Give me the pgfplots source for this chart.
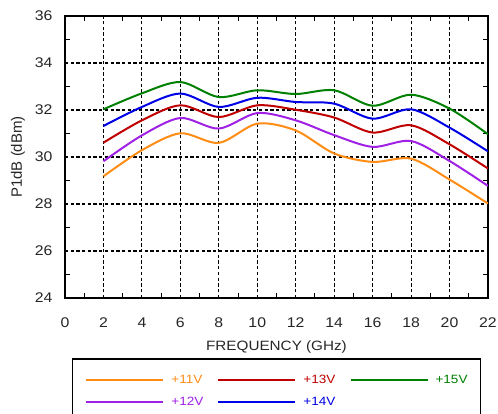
\documentclass[border=0pt]{standalone}
\usepackage{fontspec}
\setmainfont[FakeStretch=1.13]{Liberation Sans}
\newfontfamily\narrowfont{Liberation Sans}
\usepackage{pgfplots}
\pgfplotsset{compat=1.18}
\definecolor{c11}{RGB}{255,140,20}
\definecolor{c12}{RGB}{160,32,230}
\definecolor{c13}{RGB}{192,0,0}
\definecolor{c14}{RGB}{0,0,230}
\definecolor{c15}{RGB}{0,128,0}
\begin{document}
\begin{tikzpicture}
\begin{axis}[
  scale only axis, width=423pt, height=282pt,
  xmin=0, xmax=22, ymin=24, ymax=36,
  xtick={0,2,...,22}, ytick={24,26,...,36},
  minor xtick={1,3,...,21}, minor ytick={25,27,...,35},
  grid=major,
  major grid style={black, line width=1.1pt, dash pattern=on 3.3pt off 2.4pt},
  axis line style={line width=2.5pt},
  tick style={black, line width=1pt},
  major tick length=0pt, minor tick length=5pt,
  tick align=inside,
  /pgf/number format/assume math mode=true,
  tick label style={font=\fontsize{14}{16}\selectfont, text=black!85},
  xticklabel style={yshift=-16pt},
  yticklabel style={xshift=-9pt},
  xlabel={FREQUENCY (GHz)},
  ylabel={P1dB (dBm)},
  xlabel style={font=\fontsize{13.5}{16}\selectfont, text=black!85,
    at={(axis description cs:0.5,0)}, anchor=center, yshift=-49pt},
  ylabel style={font=\narrowfont\fontsize{15}{17}\selectfont, text=black!85,
    at={(axis description cs:0,0.5)}, anchor=center, rotate=0, yshift=47pt},
  legend columns=3,
  legend style={at={(0.5,-0.2142)}, anchor=north, draw=black, line width=1.3pt,
    font=\fontsize{12}{14}\selectfont, inner xsep=13pt, inner ysep=15pt,
    nodes={inner sep=0pt, text height=9pt, text depth=3pt},
    row sep=10pt,
    /tikz/every odd column/.append style={column sep=7pt},
    /tikz/every even column/.append style={column sep=14pt}},
  legend cell align=left,
  legend image code/.code={\draw[line width=2pt] (0pt,0pt) -- (77pt,0pt);},
  every axis plot/.append style={line width=2pt, smooth, tension=0.5, no marks},
]
\addplot[c11] coordinates {(2,29.18) (4,30.29) (6,31.01) (8,30.60) (10,31.42) (12,31.13) (14,30.15) (16,29.79) (18,29.93) (20,29.04) (22,28.02)};
\addlegendentry{\textcolor{c11}{+11V}}
\addplot[c13] coordinates {(2,30.61) (4,31.56) (6,32.20) (8,31.70) (10,32.20) (12,32.01) (14,31.68) (16,31.04) (18,31.35) (20,30.54) (22,29.51)};
\addlegendentry{\textcolor{c13}{+13V}}
\addplot[c15] coordinates {(2,32.03) (4,32.71) (6,33.19) (8,32.55) (10,32.84) (12,32.68) (14,32.84) (16,32.18) (18,32.65) (20,32.06) (22,30.97)};
\addlegendentry{\textcolor{c15}{+15V}}
\addplot[c12] coordinates {(2,29.82) (4,30.92) (6,31.66) (8,31.21) (10,31.87) (12,31.56) (14,30.93) (16,30.43) (18,30.68) (20,29.83) (22,28.77)};
\addlegendentry{\textcolor{c12}{+12V}}
\addplot[c14] coordinates {(2,31.32) (4,32.13) (6,32.70) (8,32.13) (10,32.52) (12,32.34) (14,32.27) (16,31.63) (18,32.03) (20,31.25) (22,30.24)};
\addlegendentry{\textcolor{c14}{+14V}}
\end{axis}
\pgfresetboundingbox
\useasboundingbox ([xshift=-65pt,yshift=-116pt]current axis.south west) rectangle ([xshift=10pt,yshift=16pt]current axis.north east);
\end{tikzpicture}
\end{document}
